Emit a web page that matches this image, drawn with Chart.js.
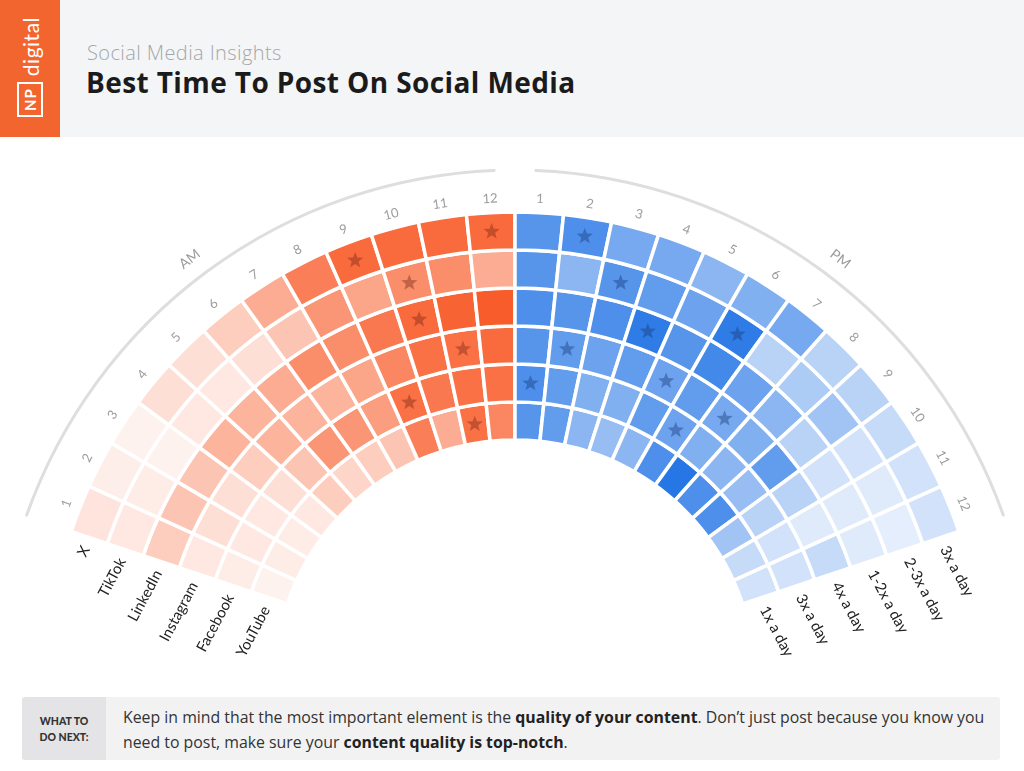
<!DOCTYPE html>
<html><head><meta charset="utf-8">
<script src="https://cdn.jsdelivr.net/npm/chart.js@4.4.1/dist/chart.umd.min.js"></script>
<style>
*{box-sizing:border-box}
html,body{margin:0;padding:0;width:1024px;height:771px;overflow:hidden;background:#fff;font-family:Lato,"Open Sans",Arial,sans-serif}
#header{position:absolute;left:0;top:0;width:1024px;height:137px;background:#f4f5f6}
#logo{position:absolute;left:0;top:0;width:60px;height:137px;background:#f2652e;overflow:hidden}
#logoInner{position:absolute;left:0;top:137px;width:137px;height:60px;transform-origin:0 0;transform:rotate(-90deg);display:flex;align-items:center;color:#fff}
#np{margin-left:20px;border:2px solid #fff;font-size:15px;font-weight:700;padding:4px 4px 3px 4px;line-height:1;letter-spacing:1px}
#dig{margin-left:6px;font-size:21px;letter-spacing:0.5px;line-height:1}
#sub{position:absolute;left:87px;top:39px;font-family:"Open Sans",sans-serif;font-size:20px;color:#a3a7ab;font-weight:300;white-space:nowrap;letter-spacing:0.4px}
#title{position:absolute;left:86px;top:63px;font-family:"Open Sans",sans-serif;font-size:28px;font-weight:700;color:#1b1b1b;white-space:nowrap;letter-spacing:0.4px}
#note{position:absolute;left:22px;top:697px;width:978px;height:63px;background:#f2f2f3;border-radius:3px}
#noteHead{position:absolute;left:0;top:0;width:84px;height:63px;background:#e4e4e6;border-radius:3px 0 0 3px;font-size:10.5px;font-weight:900;color:#333;display:flex;align-items:center;justify-content:center;text-align:center;line-height:16px}
#noteText{position:absolute;left:101px;top:8px;font-family:"Open Sans",sans-serif;font-size:15.85px;color:#333;line-height:25px;white-space:nowrap}
#noteText b{font-weight:700;color:#222}
#c{position:absolute;left:0;top:0}
</style></head>
<body>
<div id="header">
  <div id="logo"><div id="logoInner"><span id="np">NP</span><span id="dig">digital</span></div></div>
  <div id="sub">Social Media Insights</div>
  <div id="title">Best Time To Post On Social Media</div>
</div>
<canvas id="c" width="1024" height="771"></canvas>
<div id="note">
  <div id="noteHead">WHAT TO<br>DO NEXT:</div>
  <div id="noteText">Keep in mind that the most important element is the <b>quality of your content</b>. Don’t just post because you know you<br>need to post, make sure your <b>content quality is top-notch</b>.</div>
</div>
<script>
// ---------------- data ----------------
const hourLabels = ['1','2','3','4','5','6','7','8','9','10','11','12','1','2','3','4','5','6','7','8','9','10','11','12'];
const platforms = ['X','TikTok','LinkedIn','Instagram','Facebook','YouTube'];
const frequencies = ['3x a day','2-3x a day','1-2x a day','4x a day','3x a day','1x a day'];
// engagement intensity 0-10, hours 1AM..12 (noon) then 1PM..12 (midnight)
const xScores        = [1.2,0.7,0.5,1.5,1.5,2.5,4.5,7.5,9,9,9,9,      7,7.5,5.5,5.5,4.5,5,5.5,2.5,2.5,2,1.5,1.5];
const tiktokScores   = [1,0.8,0.5,1,1,1.5,3,6,5,6.5,6.5,4.5,          7,4.5,7,6.5,6,9,2.5,3,3.5,1.5,1,0.8];
const linkedinScores = [2.5,3,3,4,4,4.5,6.5,6.5,8,9,9.5,10,           7.5,7,7.5,9,7,8,6,4.5,2.5,1.5,1,1];
const instagramScores= [1,1.5,1.5,2.5,4,4,4,5,7,8.5,8.5,9,            7,6.5,6,6.5,6,6.5,5.5,5,6.5,2.5,1,2];
const facebookScores = [0.8,1,1,1.5,3,6,6,5.5,8.5,8,8.5,8.5,          7.5,6.5,5,5,6.5,6,5,4.5,4,2.5,1.5,1.5];
const youtubeScores  = [0.5,0.8,0.8,1,2.5,2,2.5,3,7.5,4.5,8.5,7,      7,6.5,4.5,4,4.5,7.5,9.5,7.5,7.5,3.5,2,1.5];
// best-time stars (hour index 0..23)
const xBest        = [8,11,13];
const tiktokBest   = [9,14,17];
const linkedinBest = [9,15];
const instagramBest= [10,13,16,18];
const facebookBest = [8,12,17];
const youtubeBest  = [10];
// every slot is one hour long
const slotHours = hourLabels.map(() => 1);

const scores = [xScores,tiktokScores,linkedinScores,instagramScores,facebookScores,youtubeScores];
const best = [xBest,tiktokBest,linkedinBest,instagramBest,facebookBest,youtubeBest];

// ---------------- layout ----------------
const W = 1024, H = 771;
const CX = 515, CY = 680, R_OUT = 468, R_IN = 240, HALF_SPAN = 71.5;
const AM_BASE = [248,92,42], PM_BASE = [28,112,228];
function cellColor(v, j){
  const b = j < 12 ? AM_BASE : PM_BASE;
  const t = Math.pow(v/10, 0.85);
  return 'rgb(' + b.map(c => Math.round(255 + (c-255)*t)).join(',') + ')';
}
// compute padding so that the doughnut center lands at (CX,CY)
const cut = R_IN / R_OUT;
const sA = (-HALF_SPAN-90)*Math.PI/180, eA = sA + 2*HALF_SPAN*Math.PI/180;
const maxY = Math.max(Math.sin(sA), Math.sin(sA)*cut, Math.sin(eA), Math.sin(eA)*cut);
const offY = -(maxY - 1)/2;
const areaCY = CY - offY*R_OUT;
const dy = 2*areaCY - H;
const pad = {left: Math.max(0, 2*CX-W), right: Math.max(0, W-2*CX), top: Math.max(0, dy), bottom: Math.max(0, -dy)};

function star(ctx, x, y, ro, ri){
  ctx.beginPath();
  for (let k=0;k<10;k++){
    const r = k%2 ? ri : ro;
    const a = -Math.PI/2 + k*Math.PI/5;
    ctx.lineTo(x + r*Math.cos(a), y + r*Math.sin(a));
  }
  ctx.closePath(); ctx.fill();
}

const overlay = {
  id: 'overlay',
  afterDatasetsDraw(chart){
    const ctx = chart.ctx;
    const m0 = chart.getDatasetMeta(0);
    const first = m0.data[0];
    const cx = first.x, cy = first.y, rOut = first.outerRadius;
    const d2r = Math.PI/180;
    ctx.save();
    // stars
    best.forEach((list, di) => {
      const meta = chart.getDatasetMeta(di);
      list.forEach(j => {
        const p = meta.data[j].getCenterPoint();
        ctx.fillStyle = j < 12 ? 'rgba(130,45,25,0.45)' : 'rgba(25,55,120,0.42)';
        star(ctx, p.x, p.y, 8.5, 3.6);
      });
    });
    // outer grey arc (slightly lower center than the rings)
    const acy = cy + 8, rArc = rOut + 50;
    ctx.strokeStyle = '#dedede'; ctx.lineWidth = 3; ctx.lineCap = 'round';
    ctx.beginPath(); ctx.arc(cx, acy, rArc, (-70.5-90)*d2r, (-2.3-90)*d2r); ctx.stroke();
    ctx.beginPath(); ctx.arc(cx, acy, rArc, (2.3-90)*d2r, (70.5-90)*d2r); ctx.stroke();
    // hour labels
    ctx.fillStyle = '#9c9c9c'; ctx.font = '13px Lato'; ctx.textAlign = 'center'; ctx.textBaseline = 'middle';
    m0.data.forEach((el, i) => {
      const a = (el.startAngle + el.endAngle)/2, r = rOut + 14;
      ctx.save(); ctx.translate(cx + r*Math.cos(a), cy + r*Math.sin(a)); ctx.rotate(a + Math.PI/2);
      ctx.fillText(hourLabels[i], 0, 0); ctx.restore();
    });
    // AM / PM
    ctx.font = '14px Lato';
    [['AM', -37.7], ['PM', 37.7]].forEach(([t, th]) => {
      const a = (th-90)*d2r, r = rOut + 64;
      ctx.save(); ctx.translate(cx + r*Math.cos(a), cy + r*Math.sin(a)); ctx.rotate(a + Math.PI/2);
      ctx.fillText(t, 0, 0); ctx.restore();
    });
    // platform labels (left) and frequency labels (right)
    ctx.fillStyle = '#222'; ctx.font = '15px Lato';
    platforms.forEach((p, di) => {
      const meta = chart.getDatasetMeta(di);
      const e0 = meta.data[0], eN = meta.data[meta.data.length-1];
      const rm = (e0.innerRadius + e0.outerRadius)/2;
      let a = e0.startAngle;
      let px = cx + rm*Math.cos(a) - 10*(-Math.sin(a)), py = cy + rm*Math.sin(a) - 10*Math.cos(a);
      ctx.save(); ctx.translate(px, py); ctx.rotate(-62*d2r); ctx.textAlign = 'right';
      ctx.fillText(p, 0, 0); ctx.restore();
      a = eN.endAngle;
      px = cx + rm*Math.cos(a) + 10*(-Math.sin(a)); py = cy + rm*Math.sin(a) + 10*Math.cos(a);
      ctx.save(); ctx.translate(px, py); ctx.rotate(62*d2r); ctx.textAlign = 'left';
      ctx.fillText(frequencies[di], 0, 0); ctx.restore();
    });
    ctx.restore();
  }
};

new Chart(document.getElementById('c'), {
  type: 'doughnut',
  data: {
    labels: hourLabels,
    datasets: platforms.map((p, i) => ({
      label: p,
      data: slotHours,
      backgroundColor: scores[i].map((v, j) => cellColor(v, j)),
      borderColor: '#ffffff',
      borderWidth: 3.5,
      borderJoinStyle: 'miter',
      hoverOffset: 0
    }))
  },
  options: {
    responsive: false,
    animation: false,
    events: [],
    rotation: -HALF_SPAN,
    circumference: 2*HALF_SPAN,
    radius: R_OUT,
    cutout: (cut*100) + '%',
    layout: { padding: pad },
    plugins: { legend: { display: false }, tooltip: { enabled: false } }
  },
  plugins: [overlay]
});
</script>
</body></html>
